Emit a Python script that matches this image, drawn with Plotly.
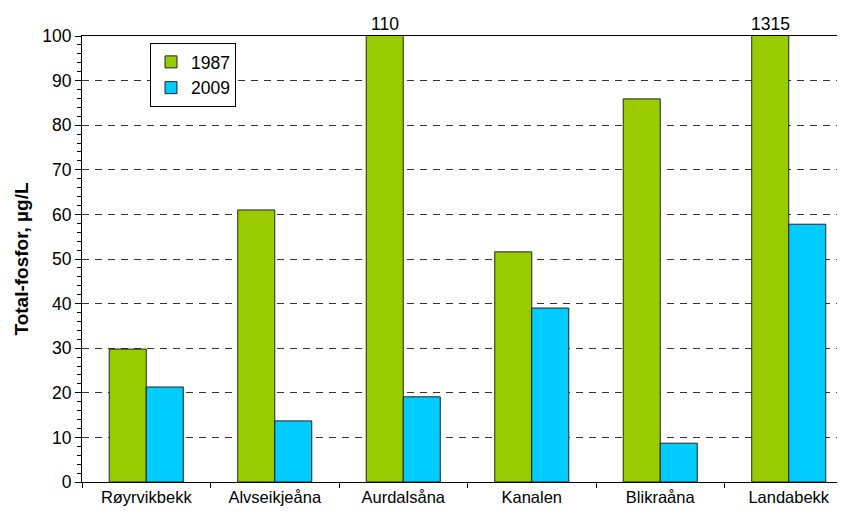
import plotly.graph_objects as go

categories = ["Røyrvikbekk", "Alvseikjeåna", "Aurdalsåna", "Kanalen", "Blikraåna", "Landabekk"]
values_1987 = [29.8, 61.0, 110, 51.6, 85.9, 1315]
values_2009 = [21.3, 13.7, 19.1, 39.0, 8.7, 57.8]
y_max = 100

bargap = 0.424
green = "#99CC00"
blue = "#00CCFF"
outline = dict(color="#222222", width=1)
FONT = "Liberation Sans, Arial"

fig = go.Figure()
fig.add_trace(go.Bar(name="1987", x=categories, y=values_1987, marker=dict(color=green, line=outline)))
fig.add_trace(go.Bar(name="2009", x=categories, y=values_2009, marker=dict(color=blue, line=outline)))

group_w = 1 - bargap
for i, v in enumerate(values_1987):
    if v > y_max:
        fig.add_annotation(x=i - group_w / 4, y=y_max, yref="y", xref="x", text=str(v),
                           showarrow=False, yanchor="bottom", yshift=0,
                           font=dict(family=FONT, size=17.5, color="black"))

# page body has an 8px default margin, so the figure is offset by (8, 8)
PAGE_OFF = 8
W, H = 845 - PAGE_OFF, 515 - PAGE_OFF
ml, mt, mb, mr = 82 - PAGE_OFF, 36 - PAGE_OFF, 33, 0
plot_w = W - ml - mr
plot_h = H - mt - mb
cat_px = 128.5

fig.update_layout(
    width=W, height=H,
    margin=dict(l=ml, r=mr, t=mt, b=mb, pad=0),
    paper_bgcolor="white", plot_bgcolor="white",
    barmode="group", bargap=bargap, bargroupgap=0,
    font=dict(family=FONT, color="black"),
    showlegend=True,
    legend=dict(x=(150 - 82) / plot_w, y=(482 - 43) / plot_h, xanchor="left", yanchor="top",
                bgcolor="white", bordercolor="black", borderwidth=1,
                font=dict(size=17.5), tracegroupgap=0, itemwidth=30),
)
fig.update_xaxes(
    range=[-0.5, -0.5 + plot_w / cat_px], automargin=False,
    showline=True, linecolor="black", linewidth=1, mirror=True,
    ticks="outside", tickson="boundaries", ticklen=5, tickcolor="black",
    tickfont=dict(size=16.5), showgrid=False,
)
fig.update_yaxes(
    range=[0, y_max], dtick=10, automargin=False,
    showline=True, linecolor="black", linewidth=1, mirror=False,
    ticks="outside", ticklen=6, tickcolor="black",
    minor=dict(dtick=2, ticks="outside", ticklen=4, tickcolor="black", showgrid=False),
    showgrid=True, gridcolor="#333333", gridwidth=1, griddash="7px,6px",
    zeroline=False,
    tickfont=dict(size=17.5),
    title=dict(text="<b>Total-fosfor, µg/L</b>", font=dict(size=19), standoff=8),
)

fig.write_html("out.html")
